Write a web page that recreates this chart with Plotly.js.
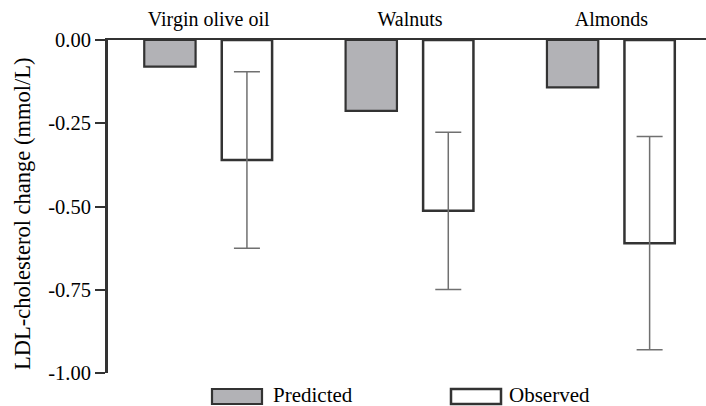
<!DOCTYPE html>
<html>
<head>
<meta charset="utf-8">
<script src="https://cdn.plot.ly/plotly-3.0.1.min.js"></script>
<style>html,body{margin:0;padding:0;background:#fff;}#chart{width:706px;height:406px;}</style>
</head>
<body>
<div id="chart"></div>
<script>
const categories = ["Virgin olive oil", "Walnuts", "Almonds"];
const predicted = [-0.08, -0.213, -0.142];
const observed = [-0.36, -0.513, -0.61];
const observedErr = [0.265, 0.236, 0.32];
const yTickVals = [0, -0.25, -0.5, -0.75, -1];
const yTickText = ["0.00", "-0.25", "-0.50", "-0.75", "-1.00"];
const seriesNames = ["Predicted", "Observed"];
const yTitle = "LDL-cholesterol change (mmol/L)";

const font = "Liberation Serif, Times New Roman, serif";
const dark = "#333333";

const traces = [
  {
    type: "bar", name: seriesNames[0], x: categories, y: predicted,
    width: 0.255, offset: -0.32,
    marker: {color: "#b2b2b6", line: {color: dark, width: 2.2}},
    showlegend: false, hoverinfo: "skip"
  },
  {
    type: "bar", name: seriesNames[1], x: categories, y: observed,
    width: 0.25, offset: 0.065,
    marker: {color: "#ffffff", line: {color: dark, width: 2.5}},
    error_y: {type: "data", array: observedErr, visible: true, color: "#707070", thickness: 1.5, width: 13},
    showlegend: false, hoverinfo: "skip"
  }
];

const px = v => (v - 108) / 598;
const py = v => -(v - 373) / 333;

const layout = {
  width: 706, height: 406,
  margin: {l: 108, r: 0, t: 40, b: 33, pad: 0},
  paper_bgcolor: "#fff", plot_bgcolor: "#fff",
  font: {family: font, size: 20, color: "#000"},
  showlegend: false,
  barmode: "group",
  xaxis: {
    type: "category", side: "top", range: [-0.5, 2.47],
    showline: true, linecolor: dark, linewidth: 2,
    ticks: "", showgrid: false, zeroline: false,
    tickfont: {family: font, size: 20, color: "#000"},
    ticklabelstandoff: 4,
    fixedrange: true
  },
  yaxis: {
    range: [-1, 0],
    tickvals: yTickVals, ticktext: yTickText,
    ticks: "outside", ticklen: 10, tickwidth: 2, tickcolor: dark,
    showline: true, linecolor: dark, linewidth: 3,
    showgrid: false, zeroline: false,
    tickfont: {family: font, size: 20.5, color: "#000"},
    automargin: false,
    fixedrange: true
  },
  shapes: [
    {type: "rect", xref: "paper", yref: "paper", x0: px(212), x1: px(262), y0: py(389), y1: py(404),
      fillcolor: "#b2b2b6", line: {color: dark, width: 2.2}},
    {type: "rect", xref: "paper", yref: "paper", x0: px(451), x1: px(501), y0: py(389), y1: py(404),
      fillcolor: "#ffffff", line: {color: dark, width: 2.5}}
  ],
  annotations: [
    {xref: "paper", yref: "paper", x: px(22), y: py(214), xanchor: "center", yanchor: "middle", textangle: -90,
      text: yTitle, showarrow: false, font: {family: font, size: 22.5, color: "#000"}},
    {xref: "paper", yref: "paper", x: px(271), y: py(395), xanchor: "left", yanchor: "middle",
      text: seriesNames[0], showarrow: false, font: {family: font, size: 21, color: "#000"}},
    {xref: "paper", yref: "paper", x: px(507), y: py(395), xanchor: "left", yanchor: "middle",
      text: seriesNames[1], showarrow: false, font: {family: font, size: 21, color: "#000"}}
  ]
};

Plotly.newPlot("chart", traces, layout, {displayModeBar: false, staticPlot: true});
</script>
</body>
</html>
